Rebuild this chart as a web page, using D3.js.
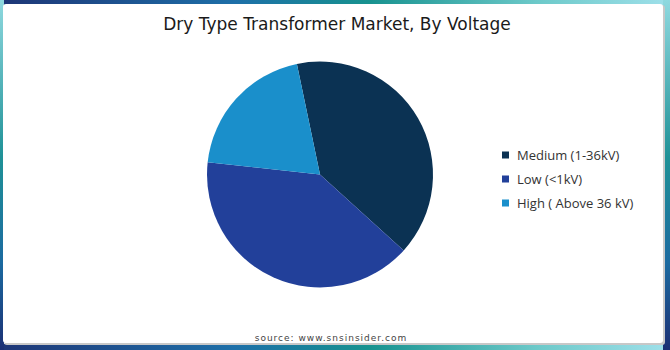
<!DOCTYPE html>
<html>
<head>
<meta charset="utf-8">
<script src="https://cdn.jsdelivr.net/npm/d3@7"></script>
<style>
  body { margin: 0; background: #fff; }
  svg { display: block; }
</style>
</head>
<body>
<div id="chart"></div>
<script>
// data
var categories = ["Medium (1-36kV)", "Low (<1kV)", "High ( Above 36 kV)"];
var shares = [40, 40, 20];
var colours = ["#0b3253", "#22409a", "#1a8fcb"];

var W = 670, H = 350;

var svg = d3.select("#chart")
  .append("svg")
    .attr("width", W)
    .attr("height", H);

// frame gradients
var defs = svg.append("defs");
function grad(id, x2, y2, stops) {
  var g = defs.append("linearGradient").attr("id", id)
    .attr("x1", 0).attr("y1", 0).attr("x2", x2).attr("y2", y2);
  stops.forEach(function(s) {
    g.append("stop").attr("offset", s[0]).attr("stop-color", s[1]);
  });
}
grad("gh", 1, 0, [[0, "#1d3576"], [0.35, "#1d6fa8"], [0.55, "#17928f"], [0.8, "#6cc9c9"], [1, "#9fe0ea"]]);
grad("gv", 0, 1, [[0, "#8fd9df"], [0.45, "#1f9197"], [0.75, "#1b6aa0"], [1, "#1b2f74"]]);

svg.append("rect").attr("x", 0).attr("y", 0).attr("width", W).attr("height", 5).attr("fill", "url(#gh)");
svg.append("rect").attr("x", 0).attr("y", H - 6).attr("width", W).attr("height", 6).attr("fill", "url(#gh)");
svg.append("rect").attr("x", 0).attr("y", 0).attr("width", 4).attr("height", H).attr("fill", "url(#gv)");
svg.append("rect").attr("x", W - 7).attr("y", 0).attr("width", 7).attr("height", H).attr("fill", "url(#gv)");

// white panel with a faint shadow
svg.append("rect").attr("x", 4).attr("y", 5).attr("width", 661).attr("height", 340)
  .attr("rx", 3).attr("fill", "#c8c8c8");
svg.append("rect").attr("x", 3).attr("y", 4).attr("width", 660).attr("height", 339)
  .attr("rx", 3).attr("fill", "#fff");

// title
svg.append("text")
  .attr("x", 337).attr("y", 30)
  .attr("text-anchor", "middle")
  .style("font-family", "'DejaVu Sans', sans-serif")
  .style("font-size", "17px")
  .style("fill", "#1a1a1a")
  .text("Dry Type Transformer Market, By Voltage");

// pie
var cx = 320, cy = 174.5, r = 113;
var offset = -11.8 * Math.PI / 180;
var pie = d3.pie().sort(null)
  .startAngle(offset).endAngle(offset + 2 * Math.PI);
var arc = d3.arc().innerRadius(0).outerRadius(r);

svg.append("g")
  .attr("transform", "translate(" + cx + "," + cy + ")")
  .selectAll("path")
  .data(pie(shares))
  .enter().append("path")
    .attr("d", arc)
    .attr("fill", function(d, i) { return colours[i]; });

// legend
var y = d3.scaleBand().domain(categories).range([143, 215]);
var legend = svg.append("g").selectAll("g")
  .data(categories)
  .enter().append("g")
    .attr("transform", function(d) { return "translate(502," + (y(d) + y.bandwidth() / 2) + ")"; });

legend.append("rect")
  .attr("x", 0).attr("y", -3.5).attr("width", 7).attr("height", 7)
  .attr("fill", function(d, i) { return colours[i]; });

legend.append("text")
  .attr("x", 15).attr("y", 4.5)
  .style("font-family", "'Open Sans', sans-serif")
  .style("font-size", "13px")
  .style("fill", "#333")
  .text(function(d) { return d; });

// source
svg.append("text")
  .attr("x", 331).attr("y", 341)
  .attr("text-anchor", "middle")
  .style("font-family", "'DejaVu Sans', sans-serif")
  .style("font-size", "9px")
  .style("letter-spacing", "1px")
  .style("fill", "#444")
  .text("source: www.snsinsider.com");
</script>
</body>
</html>
